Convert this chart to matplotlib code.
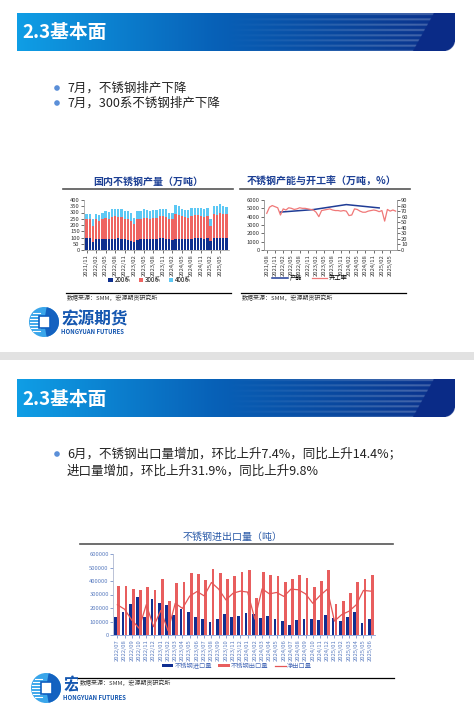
import numpy as np
import matplotlib
matplotlib.use('Agg')
import matplotlib.pyplot as plt
from matplotlib.patches import Rectangle, Circle, Wedge
from matplotlib.lines import Line2D

plt.rcParams['font.family'] = ['Noto Sans CJK SC', 'DejaVu Sans']

W, H = 474, 719


def months(y, m, n):
    out = []
    for i in range(n):
        out.append('%d/%02d' % (y + (m - 1 + i) // 12, (m - 1 + i) % 12 + 1))
    return out


# domestic stainless output, 10k t (2021/11 - 2025/07)
prod_months = months(2021, 11, 45)
s200 = [100, 100, 65, 85, 85, 85, 90, 88, 90, 92, 93, 90, 85, 80, 70, 65, 80, 85, 85, 88,
        90, 90, 92, 95, 100, 92, 85, 80, 92, 92, 88, 85, 85, 90, 100, 100, 95, 88, 100, 75,
        100, 100, 100, 95, 95]
s300 = [145, 145, 130, 160, 145, 160, 165, 162, 175, 178, 172, 175, 165, 170, 160, 145, 170, 165, 175, 167,
        160, 170, 168, 175, 175, 173, 160, 165, 193, 188, 182, 180, 175, 180, 180, 180, 180, 177, 175, 120,
        185, 180, 195, 190, 190]
s400 = [45, 45, 50, 45, 50, 55, 55, 55, 60, 60, 65, 60, 65, 60, 65, 50, 65, 65, 65, 65,
        60, 60, 60, 60, 55, 65, 55, 55, 75, 70, 60, 55, 60, 65, 60, 60, 65, 60, 60, 55,
        70, 75, 70, 65, 60]

# capacity (10k t) and operating rate (%)
rate_months = months(2021, 8, 48)
op_rate = [66, 77, 80, 78, 76, 63, 74, 72, 76, 75, 73, 74, 76, 75, 75, 74, 73, 72, 68, 60,
           71, 72, 73, 74, 72, 71, 71, 70, 71, 70, 62, 63, 74, 73, 70, 68, 68, 70, 71, 72,
           71, 69, 71, 52, 73, 70, 72, 70]
cap_months = ['2022/01', '2023/01', '2024/01', '2025/01']
capacity = [4550, 4850, 5450, 5050]

# imports / exports (t), 2022/07 - 2025/06
trade_months = months(2022, 7, 36)
imports = [136000, 174000, 230000, 285000, 130000, 268000, 235000, 223000, 150000, 193000,
           172000, 130000, 120000, 100000, 120000, 157000, 130000, 142000, 162000, 155000,
           125000, 142000, 120000, 104000, 75000, 112000, 117000, 120000, 110000, 145000,
           125000, 104000, 132000, 169000, 87000, 117000]
exports = [360000, 365000, 340000, 335000, 355000, 330000, 417000, 255000, 385000, 390000,
           460000, 452000, 410000, 489000, 460000, 417000, 440000, 467000, 480000, 273000,
           467000, 447000, 435000, 390000, 415000, 447000, 422000, 355000, 402000, 484000,
           228000, 255000, 308000, 392000, 417000, 442000]
net_exports = [224000, 191000, 110000, 50000, 225000, 62000, 182000, 32000, 235000, 197000,
               288000, 322000, 290000, 389000, 340000, 260000, 310000, 325000, 318000, 118000,
               342000, 305000, 315000, 286000, 340000, 335000, 305000, 235000, 292000, 339000,
               103000, 151000, 176000, 223000, 330000, 325000]

fig = plt.figure(figsize=(W / 100, H / 100), dpi=100)
fig.patch.set_facecolor('white')
bg = fig.add_axes([0, 0, 1, 1])
bg.axis('off')


def px_ax(x0, y0, x1, y1):
    return fig.add_axes([x0 / W, 1 - y1 / H, (x1 - x0) / W, (y1 - y0) / H])


def banner(y0):
    x0, x1, h = 17, 455, 38
    sc = 3
    nx, ny = (x1 - x0) * sc, h * sc
    xs = x0 + (np.arange(nx) + 0.5) / sc
    ys = y0 + (np.arange(ny) + 0.5) / sc
    X, Y = np.meshgrid(xs, ys)
    t = (X - x0) / (x1 - x0)
    stops = [0, 0.45, 0.8, 1]
    r = np.interp(t, stops, [0.06, 0.03, 0.04, 0.04])
    g = np.interp(t, stops, [0.62, 0.38, 0.26, 0.18])
    b = np.interp(t, stops, [0.90, 0.72, 0.60, 0.54])
    img = np.dstack([r, g, b, np.ones_like(r)])
    # light streaks on the right half
    ramp = np.clip((X - 230) / 180, 0, 1) * 0.22
    streak = ((Y - y0) % 5.3) < 2.0
    for c in range(3):
        img[..., c] = np.where(streak, img[..., c] + (1 - img[..., c]) * ramp, img[..., c])
    edge = 413 + (y0 + h - Y) * 0.55
    img[X > edge, 0:3] = [0.04, 0.17, 0.53]
    rad = 11
    cx, cy = x1 - rad, y0 + h - rad
    img[(X > cx) & (Y > cy) & ((X - cx) ** 2 + (Y - cy) ** 2 > rad ** 2), 3] = 0
    bg.imshow(img, extent=(x0, x1, y0 + h, y0), interpolation='bilinear', aspect='auto', zorder=2)
    bg.text(22, y0 + h / 2 + 1, '2.3基本面', color='white', fontsize=13.5,
            fontweight='bold', va='center', zorder=3)


def logo(cx, cy, name='宏源期货'):
    bg.add_patch(Circle((cx, cy), 15, fc='#3aa6ea', ec='none', zorder=3))
    bg.add_patch(Wedge((cx, cy), 15, -80, 80, fc='#1462c0', ec='none', zorder=3))
    for dy in [-9, -6, -3, 0, 3, 6, 9]:
        half = 15 * np.sqrt(1 - (dy / 15) ** 2)
        bg.plot([cx - half + 1, cx - 4], [cy + dy, cy + dy], color='white', lw=0.8, zorder=4)
    bg.add_patch(Rectangle((cx - 5, cy - 6), 11, 12, fc='white', ec='#0f5fc0', lw=1.2, zorder=5))
    bg.text(cx + 17, cy - 3, name, color='#1557b0', fontsize=12, fontweight='bold',
            va='center', zorder=3)
    bg.text(cx + 17, cy + 9, 'HONGYUAN FUTURES', color='#1557b0', fontsize=4.3,
            fontweight='bold', va='center', zorder=3)


def bullet(x, y):
    bg.add_patch(Circle((x, y), 2.8, fc='#5b8fd8', ec='none', zorder=3))


# ---------- slide 1 ----------
banner(12.7)
bullet(57, 88)
bg.text(67, 88, '7月，不锈钢排产下降', fontsize=9, va='center', color='#222222')
bullet(57, 103)
bg.text(67, 103, '7月，300系不锈钢排产下降', fontsize=9, va='center', color='#222222')

bg.text(148, 182, '国内不锈钢产量（万吨）', fontsize=7.2, fontweight='bold', color='#1c3f94',
        ha='center', va='center')
bg.text(322, 182, '不锈钢产能与开工率（万吨，%）', fontsize=7.2, fontweight='bold', color='#1c3f94',
        ha='center', va='center')
bg.plot([63, 233], [188.5, 188.5], color='#555555', lw=1.2)
bg.plot([240, 410], [188.5, 188.5], color='#555555', lw=1.2)
bg.plot([66, 231], [293, 293], color='black', lw=0.9)
bg.plot([241, 406], [293, 293], color='black', lw=0.9)
bg.text(67, 297.5, '数据来源：SMM，宏源期货研究所', fontsize=4.3, va='center', color='#333333')
bg.text(242, 297.5, '数据来源：SMM，宏源期货研究所', fontsize=4.3, va='center', color='#333333')
logo(44, 322)

bg.add_patch(Rectangle((0, 352), W, 8, fc='#e2e2e2', ec='none', zorder=1))

# ---------- slide 2 ----------
banner(379.5)
bullet(57, 454)
bg.text(67, 454, '6月，不锈钢出口量增加，环比上升7.4%，同比上升14.4%；', fontsize=9,
        va='center', color='#222222')
bg.text(67, 471, '进口量增加，环比上升31.9%，同比上升9.8%', fontsize=9, va='center', color='#222222')
# the chart picture covers most of the logo here, only its first glyph shows
logo(46, 688, name='宏')
bg.add_patch(Rectangle((78, 525), 317, 167, fc='white', ec='none', zorder=6))
bg.text(233, 537, '不锈钢进出口量（吨）', fontsize=7.2, color='#2a5aa8', ha='center',
        va='center', zorder=7)
bg.plot([80, 393], [544, 544], color='#555555', lw=1.2, zorder=7)
bg.plot([78, 394], [678, 678], color='black', lw=0.9, zorder=7)
bg.text(80, 683, '数据来源：SMM，宏源期货研究所', fontsize=4.3, va='center', color='#333333', zorder=7)

bg.set_xlim(0, W)
bg.set_ylim(H, 0)

small = dict(labelsize=4.2, length=2, width=0.5, pad=1)

# ---------- output stacked bars ----------
ax1 = px_ax(84, 200, 229, 250)
ax1.patch.set_alpha(0)
x1 = np.arange(len(prod_months))
b1 = ax1.bar(x1, s200, 0.72, color='#0e2f8e', label='200系')
b2 = ax1.bar(x1, s300, 0.72, bottom=s200, color='#ee6461', label='300系')
base = np.array(s200) + np.array(s300)
b3 = ax1.bar(x1, s400, 0.72, bottom=base, color='#5cc8f4', label='400系')
ax1.set_xlim(-0.8, len(prod_months) - 0.2)
ax1.set_ylim(0, 400)
ax1.set_yticks(range(0, 401, 50))
ax1.set_xticks(x1[::3])
ax1.set_xticklabels(prod_months[::3], rotation=90)
ax1.tick_params(colors='#333333', **small)
for s in ['top', 'right']:
    ax1.spines[s].set_visible(False)
for s in ['left', 'bottom']:
    ax1.spines[s].set_color('#999999')
    ax1.spines[s].set_linewidth(0.5)
fig.legend([b1, b2, b3], ['200系', '300系', '400系'], loc='center', ncol=3,
           bbox_to_anchor=(150 / W, 1 - 280 / H), fontsize=4.5, frameon=False,
           handlelength=0.7, handleheight=0.7, columnspacing=1.2, handletextpad=0.3)

# ---------- capacity / operating rate ----------
ax2 = px_ax(264, 200, 397, 250)
ax2.patch.set_alpha(0)
cap_x = [rate_months.index(m) for m in cap_months]
ax2.plot(cap_x, capacity, color='#1f3c96', lw=1.1)
ax2.set_ylim(0, 6000)
ax2.set_yticks(range(0, 6001, 1000))
ax2.set_xlim(-1, len(rate_months) - 0.5)
ax2.set_xticks(range(0, len(rate_months), 3))
ax2.set_xticklabels(rate_months[::3], rotation=90)
ax2.tick_params(colors='#333333', **small)
ax2b = ax2.twinx()
ax2b.plot(range(len(rate_months)), op_rate, color='#f07878', lw=0.9)
ax2b.set_ylim(0, 90)
ax2b.set_yticks(range(0, 91, 10))
ax2b.tick_params(colors='#333333', **small)
for a in (ax2, ax2b):
    a.spines['top'].set_visible(False)
    for s in ['left', 'right', 'bottom']:
        a.spines[s].set_color('#999999')
        a.spines[s].set_linewidth(0.5)
fig.legend([Line2D([], [], color='#1f3c96', lw=1.1), Line2D([], [], color='#f07878', lw=0.9)],
           ['产能', '开工率'], loc='center', ncol=2, bbox_to_anchor=(310 / W, 1 - 278 / H),
           fontsize=4.5, frameon=False, handlelength=2.5, columnspacing=1.5, handletextpad=0.3)

# ---------- imports / exports ----------
ax3 = px_ax(113, 554, 375, 635)
ax3.set_zorder(10)
ax3.patch.set_alpha(0)
x3 = np.arange(len(trade_months))
h1 = ax3.bar(x3 - 0.21, imports, 0.38, color='#102e91')
h2 = ax3.bar(x3 + 0.21, exports, 0.38, color='#e85e5e')
h3, = ax3.plot(x3, net_exports, color='#e45555', lw=0.9)
ax3.set_xlim(-0.6, len(trade_months) - 0.4)
ax3.set_ylim(0, 600000)
ax3.set_yticks(range(0, 600001, 100000))
ax3.set_yticklabels([str(v) for v in range(0, 600001, 100000)])
ax3.set_xticks(x3)
ax3.set_xticklabels(trade_months, rotation=90, fontsize=3.8)
ax3.tick_params(colors='#5a7cc0', **small)
for s in ['top', 'right']:
    ax3.spines[s].set_visible(False)
ax3.spines['left'].set_color('#b0b8d0')
ax3.spines['bottom'].set_color('#8aa0d8')
for s in ['left', 'bottom']:
    ax3.spines[s].set_linewidth(0.6)
leg = fig.legend([h1, h2, h3], ['不锈钢进口量', '不锈钢出口量', '净出口量'], loc='center', ncol=3,
                 bbox_to_anchor=(237 / W, 1 - 666 / H), fontsize=4.5, frameon=False,
                 handlelength=1.8, handleheight=0.4, columnspacing=1.0, handletextpad=0.2)
for t in leg.get_texts():
    t.set_color('#4a6cb8')
leg.set_zorder(20)

fig.savefig('out.png', dpi=100)
